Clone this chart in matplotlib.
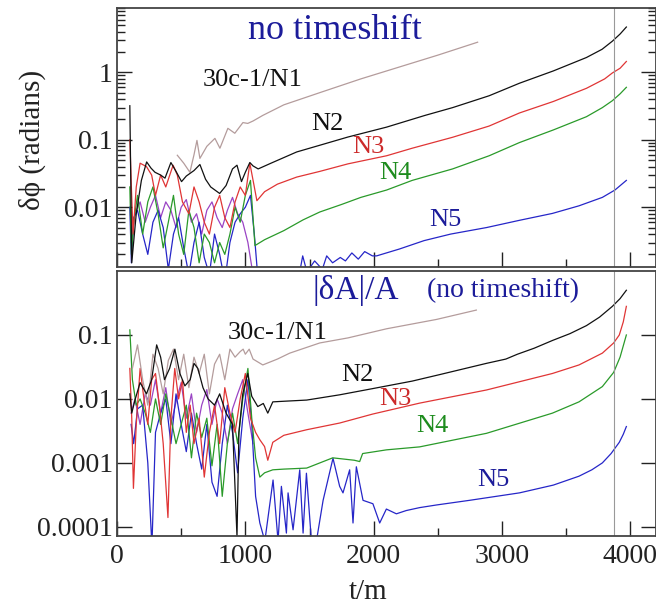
import numpy as np
import matplotlib
matplotlib.use("Agg")
import matplotlib.pyplot as plt
from matplotlib.ticker import FixedLocator, FixedFormatter, MultipleLocator, LogLocator, NullFormatter

plt.rcParams['font.family'] = ['Liberation Serif', 'DejaVu Serif']

# ---- top panel: phase difference ----
t_n1_top = [470, 520, 568, 600, 623, 646, 700, 763, 802, 864, 918, 981, 1019, 1060, 1136,
            1300, 1580, 1900, 2200, 2500, 2810]
n1_top = [0.059, 0.045, 0.033, 0.06, 0.098, 0.053, 0.08, 0.105, 0.075, 0.148, 0.125, 0.18, 0.175,
          0.19, 0.23, 0.33, 0.5, 0.8, 1.2, 1.8, 2.8]

t_n2_top = [100, 108, 115, 150, 190, 231, 265, 296, 340, 374, 420, 460, 503, 540, 600, 646, 690,
            730, 763, 800, 850, 900, 935, 970, 1000, 1035, 1060, 1100, 1200, 1400, 1580, 1800,
            2100, 2400, 2615, 2900, 3136, 3400, 3658, 3780, 3860, 3920, 3969]
n2_top = [0.32, 0.02, 0.0015, 0.008, 0.025, 0.047, 0.038, 0.033, 0.03, 0.027, 0.046, 0.034, 0.024,
          0.029, 0.035, 0.043, 0.026, 0.02, 0.018, 0.016, 0.021, 0.037, 0.042, 0.024, 0.033, 0.046,
          0.041, 0.037, 0.045, 0.066, 0.083, 0.11, 0.154, 0.23, 0.30, 0.45, 0.69, 1.05, 1.66,
          2.2, 2.9, 3.7, 4.7]

t_n3_top = [100, 112, 125, 150, 180, 230, 270, 300, 340, 380, 437, 470, 510, 560, 600, 640, 680,
            720, 760, 800, 840, 880, 920, 960, 1000, 1035, 1070, 1090, 1150, 1250, 1400, 1580,
            1800, 2101, 2300, 2615, 2900, 3136, 3400, 3658, 3800, 3860, 3920, 3969]
n3_top = [0.1, 0.02, 0.004, 0.02, 0.045, 0.04, 0.03, 0.015, 0.03, 0.02, 0.042, 0.03, 0.012, 0.008,
          0.02, 0.012, 0.006, 0.004, 0.01, 0.015, 0.007, 0.005, 0.012, 0.02, 0.015, 0.045, 0.02,
          0.0125, 0.017, 0.022, 0.028, 0.034, 0.044, 0.058, 0.075, 0.109, 0.16, 0.25, 0.37, 0.58,
          0.8, 0.98, 1.15, 1.45]

t_n4_top = [100, 112, 130, 160, 200, 240, 280, 320, 360, 400, 440, 480, 520, 560, 600, 640, 680,
            720, 760, 800, 840, 880, 920, 960, 1000, 1040, 1075, 1150, 1300, 1450, 1580, 1750,
            1900, 2101, 2300, 2615, 2900, 3136, 3400, 3658, 3782, 3860, 3920, 3969]
n4_top = [0.02, 0.002, 0.006, 0.015, 0.004, 0.012, 0.02, 0.008, 0.0025, 0.006, 0.015, 0.004, 0.002,
          0.009, 0.005, 0.0015, 0.004, 0.003, 0.0015, 0.003, 0.002, 0.004, 0.01, 0.006, 0.015,
          0.025, 0.0027, 0.0033, 0.0045, 0.0065, 0.0085, 0.011, 0.014, 0.018, 0.025, 0.037, 0.058,
          0.091, 0.14, 0.22, 0.3, 0.38, 0.48, 0.6]

t_n5_top = [100, 112, 130, 160, 200, 240, 280, 320, 360, 400, 440, 480, 520, 560, 600, 640, 680,
            720, 760, 800, 840, 880, 920, 960, 1000, 1040, 1070, 1100, 1150, 1250, 1350, 1420,
            1447, 1480, 1540, 1600, 1634, 1680, 1740, 1780, 1830, 1880, 1930, 1990, 2023, 2200,
            2393, 2600, 2880, 3136, 3393, 3600, 3782, 3880, 3969]
n5_top = [0.01, 0.0015, 0.007, 0.009, 0.004, 0.002, 0.006, 0.009, 0.005, 0.0012, 0.004, 0.007,
          0.0025, 0.001, 0.003, 0.006, 0.0018, 0.001, 0.004, 0.002, 0.0008, 0.003, 0.006, 0.008,
          0.01, 0.015, 0.004, 0.0008, 0.0005, 0.0009, 0.0007, 0.001, 0.0019, 0.0011, 0.0016,
          0.0012, 0.0019, 0.0015, 0.0018, 0.0016, 0.0021, 0.0017, 0.0022, 0.0019, 0.0019, 0.0024,
          0.0032, 0.004, 0.005, 0.0064, 0.0081, 0.0105, 0.014, 0.018, 0.025]

t_pu_top = [110, 140, 180, 220, 260, 300, 340, 380, 420, 460, 500, 540, 580, 620, 660, 700, 740,
            780, 820, 860, 900, 940, 980, 1020, 1060]
pu_top = [0.003, 0.008, 0.012, 0.006, 0.01, 0.015, 0.007, 0.012, 0.009, 0.005, 0.01, 0.013, 0.006,
          0.008, 0.004, 0.009, 0.012, 0.007, 0.005, 0.009, 0.014, 0.008, 0.006, 0.003, 0.001]

# ---- bottom panel: amplitude difference ----
t_n1_bot = [120, 160, 200, 240, 280, 320, 360, 400, 440, 480, 520, 560, 600, 640, 680, 720, 760,
            800, 840, 880, 920, 960, 983, 1000, 1030, 1060, 1136, 1250, 1346, 1580, 1800, 2101,
            2490, 2800]
n1_bot = [0.03, 0.07, 0.02, 0.008, 0.05, 0.03, 0.012, 0.04, 0.06, 0.02, 0.05, 0.015, 0.045, 0.025,
          0.05, 0.012, 0.035, 0.05, 0.02, 0.06, 0.045, 0.055, 0.06, 0.05, 0.06, 0.042, 0.034,
          0.042, 0.052, 0.075, 0.09, 0.125, 0.175, 0.245]

t_n2_bot = [100, 115, 140, 180, 230, 270, 309, 340, 370, 410, 451, 490, 529, 570, 600, 630, 670,
            710, 760, 800, 850, 900, 935, 950, 980, 1019, 1050, 1097, 1140, 1175, 1214, 1300, 1478,
            1735, 1992, 2300, 2514, 2879, 3030, 3120, 3250, 3393, 3530, 3658, 3760, 3860, 3920,
            3969]
n2_bot = [0.012, 0.006, 0.0096, 0.018, 0.012, 0.02, 0.07, 0.045, 0.02, 0.03, 0.06, 0.025, 0.016,
          0.02, 0.036, 0.03, 0.015, 0.01, 0.008, 0.012, 0.006, 0.004, 0.00007, 0.003, 0.012, 0.025,
          0.011, 0.0076, 0.0085, 0.006, 0.009, 0.0092, 0.0096, 0.0116, 0.0145, 0.019, 0.024, 0.036,
          0.042, 0.05, 0.062, 0.082, 0.105, 0.14, 0.19, 0.28, 0.37, 0.5]

t_n3_bot = [100, 115, 128, 150, 180, 210, 240, 270, 300, 330, 360, 397, 420, 450, 480, 510, 540,
            570, 600, 640, 680, 720, 760, 800, 840, 880, 920, 960, 1000, 1040, 1080, 1113, 1150,
            1175, 1214, 1300, 1478, 1735, 1992, 2358, 2879, 3393, 3600, 3782, 3870, 3914, 3945,
            3969]
n3_bot = [0.03, 0.005, 0.0004, 0.004, 0.03, 0.01, 0.004, 0.02, 0.025, 0.008, 0.002, 0.00014, 0.005,
          0.03, 0.01, 0.02, 0.003, 0.008, 0.002, 0.005, 0.0006, 0.003, 0.008, 0.002, 0.015, 0.006,
          0.003, 0.01, 0.025, 0.005, 0.003, 0.0023, 0.0018, 0.0011, 0.0021, 0.0027, 0.0033, 0.0042,
          0.0058, 0.0086, 0.0138, 0.025, 0.034, 0.052, 0.075, 0.1, 0.16, 0.28]

t_n4_bot = [100, 120, 150, 180, 220, 260, 300, 340, 380, 420, 460, 500, 540, 580, 620, 660, 700,
            740, 780, 820, 860, 900, 940, 980, 1020, 1050, 1080, 1113, 1150, 1214, 1300, 1478, 1681,
            1850, 1891, 1914, 2100, 2358, 2879, 3393, 3600, 3782, 3870, 3920, 3969]
n4_bot = [0.12, 0.02, 0.008, 0.01, 0.006, 0.003, 0.01, 0.004, 0.012, 0.005, 0.002, 0.004, 0.008,
          0.0012, 0.006, 0.0025, 0.005, 0.0009, 0.004, 0.0003, 0.002, 0.006, 0.002, 0.01, 0.03,
          0.005, 0.0012, 0.0006, 0.0007, 0.00078, 0.0008, 0.00083, 0.0012, 0.0011, 0.00105, 0.0014,
          0.0016, 0.00178, 0.0029, 0.006, 0.009, 0.0156, 0.026, 0.045, 0.1]

t_n5_bot = [110, 130, 160, 200, 240, 272, 300, 340, 380, 420, 460, 500, 540, 580, 620, 660, 700,
            740, 780, 820, 860, 900, 940, 980, 1020, 1050, 1080, 1113, 1152, 1216, 1255, 1281, 1320,
            1333, 1372, 1424, 1450, 1476, 1515, 1554, 1606, 1683, 1735, 1761, 1813, 1839, 1865,
            1917, 1994, 2047, 2099, 2177, 2254, 2358, 2490, 2747, 3136, 3400, 3600, 3700, 3782,
            3850, 3914, 3945, 3969]
n5_bot = [0.004, 0.002, 0.007, 0.008, 0.001, 0.00005, 0.003, 0.006, 0.01, 0.002, 0.012, 0.004,
          0.0015, 0.006, 0.002, 0.0008, 0.004, 0.0005, 0.0003, 0.002, 0.008, 0.003, 0.0007, 0.005,
          0.02, 0.004, 0.0003, 0.000115, 0.00006, 0.00054, 0.00006, 0.00043, 0.00008, 0.00034,
          0.00009, 0.00078, 0.00008, 0.00069, 0.00006, 0.00006, 0.00026, 0.00118, 0.00043, 0.00034,
          0.00078, 0.000115, 0.00087, 0.00026, 0.00023, 0.000115, 0.00019, 0.00016, 0.00018,
          0.0002, 0.00022, 0.00026, 0.00034, 0.00045, 0.00062, 0.00078, 0.001, 0.0014, 0.0021,
          0.0028, 0.0037]

t_pu_bot = [110, 140, 180, 220, 260, 300, 340, 380, 420, 460, 500, 540, 580, 620, 660, 700, 740,
            780, 820, 860, 900, 940, 980, 1020, 1060]
pu_bot = [0.006, 0.01, 0.004, 0.012, 0.008, 0.02, 0.006, 0.015, 0.004, 0.009, 0.018, 0.005, 0.012,
          0.003, 0.008, 0.014, 0.004, 0.01, 0.006, 0.002, 0.007, 0.012, 0.02, 0.006, 0.002]

grey = '#b49c9c'
black = '#111111'
red = '#e03535'
green = '#2a9a2a'
blue = '#2626c8'
purple = '#9a44c4'
tblue = '#1c1c9a'

fig = plt.figure(figsize=(6.56, 6.05), dpi=100)
ax1 = fig.add_axes([117 / 656, 1 - 267 / 605, 539 / 656, 259 / 605])
ax2 = fig.add_axes([117 / 656, 1 - 536 / 605, 539 / 656, 265 / 605])

lw = 0.9
ax1.plot(t_pu_top, pu_top, color=purple, lw=lw)
ax1.plot(t_n5_top, n5_top, color=blue, lw=lw)
ax1.plot(t_n4_top, n4_top, color=green, lw=lw)
ax1.plot(t_n3_top, n3_top, color=red, lw=lw)
ax1.plot(t_n1_top, n1_top, color=grey, lw=lw)
ax1.plot(t_n2_top, n2_top, color=black, lw=lw)

ax2.plot(t_pu_bot, pu_bot, color=purple, lw=lw)
ax2.plot(t_n5_bot, n5_bot, color=blue, lw=lw)
ax2.plot(t_n4_bot, n4_bot, color=green, lw=lw)
ax2.plot(t_n3_bot, n3_bot, color=red, lw=lw)
ax2.plot(t_n1_bot, n1_bot, color=grey, lw=lw)
ax2.plot(t_n2_bot, n2_bot, color=black, lw=lw)

for ax in (ax1, ax2):
    ax.set_yscale('log')
    ax.set_xlim(0, 4200)
    ax.axvline(3870, color='#999999', lw=0.8)
    ax.xaxis.set_major_locator(MultipleLocator(1000))
    ax.xaxis.set_minor_locator(MultipleLocator(500))
    ax.yaxis.set_minor_locator(LogLocator(subs=np.arange(2, 10)))
    ax.yaxis.set_minor_formatter(NullFormatter())
    ax.tick_params(which='both', direction='in', right=True, top=False,
                   labelsize=20, colors='#222222', width=1.0)
    ax.tick_params(which='major', length=11, pad=3)
    ax.tick_params(which='minor', length=6)
    for s in ax.spines.values():
        s.set_color('#444444')
        s.set_linewidth(1.3)

ax1.set_ylim(1.3e-3, 9)
ax1.yaxis.set_major_locator(FixedLocator([0.01, 0.1, 1]))
ax1.yaxis.set_major_formatter(FixedFormatter(['0.01', '0.1', '1']))
ax1.tick_params(labelbottom=False)

ax2.set_ylim(7.2e-5, 1.0)
ax2.yaxis.set_major_locator(FixedLocator([0.0001, 0.001, 0.01, 0.1]))
ax2.yaxis.set_major_formatter(FixedFormatter(['0.0001', '0.001', '0.01', '0.1']))
ax2.xaxis.set_major_locator(FixedLocator([0, 1000, 2000, 3000, 4000]))
ax2.xaxis.set_major_formatter(FixedFormatter(['0', '1000', '2000', '3000', '4000']))
ax2.tick_params(axis='x', pad=6)

# labels on the curves
ax1.text(1696, 4.2, 'no timeshift', color=tblue, fontsize=26, ha='center', va='center')
ax1.text(669, 0.76, '30c-1/N1', color=black, fontsize=19, ha='left', va='center')
ax1.text(1517, 0.17, 'N2', color=black, fontsize=19, ha='left', va='center')
ax1.text(1829, 0.078, 'N3', color='#cc2a2a', fontsize=19, ha='left', va='center')
ax1.text(2047, 0.032, 'N4', color='#1e8c1e', fontsize=19, ha='left', va='center')
ax1.text(2436, 0.0064, 'N5', color=tblue, fontsize=19, ha='left', va='center')

ax2.text(1525, 0.5, '|δA|/A', color=tblue, fontsize=24, ha='left', va='center')
ax2.text(2412, 0.5, '(no timeshift)', color=tblue, fontsize=20, ha='left', va='center')
ax2.text(864, 0.107, '30c-1/N1', color=black, fontsize=19, ha='left', va='center')
ax2.text(1751, 0.0237, 'N2', color=black, fontsize=19, ha='left', va='center')
ax2.text(2047, 0.01, 'N3', color='#cc2a2a', fontsize=19, ha='left', va='center')
ax2.text(2335, 0.0038, 'N4', color='#1e8c1e', fontsize=19, ha='left', va='center')
ax2.text(2809, 0.00054, 'N5', color=tblue, fontsize=19, ha='left', va='center')

fig.text(32 / 656, 1 - 140 / 605, 'δϕ (radians)', rotation=90, fontsize=21,
         ha='center', va='center', color='#222222')
fig.text(368 / 656, 1 - 592 / 605, 't/m', fontsize=21, ha='center', va='center', color='#222222')

fig.savefig('out.png', dpi=100)
